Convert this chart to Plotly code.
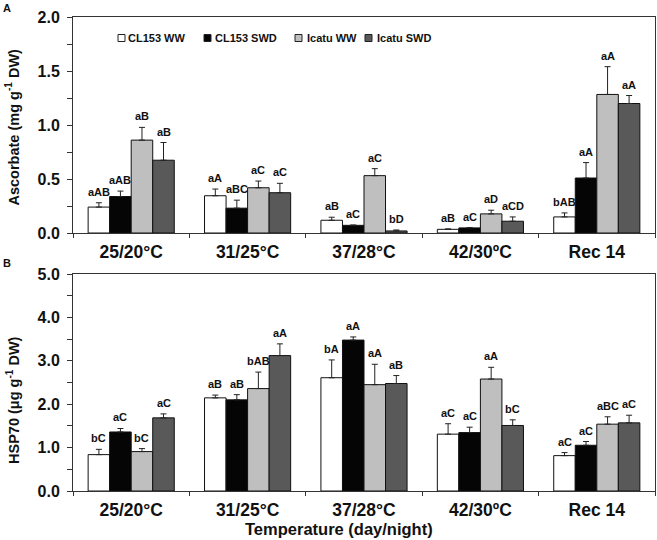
import plotly.graph_objects as go

categories = ["25/20°C", "31/25°C", "37/28°C", "42/30ºC", "Rec 14"]
series_names = ["CL153 WW", "CL153 SWD", "Icatu WW", "Icatu SWD"]
series_colors = ["#ffffff", "#050505", "#bfbfbf", "#595959"]

# Panel A: Ascorbate (mg g-1 DW)
asc_cl153_ww = [0.24, 0.345, 0.118, 0.034, 0.149]
asc_cl153_ww_err = [0.04, 0.062, 0.028, 0.004, 0.037]
asc_cl153_swd = [0.338, 0.23, 0.071, 0.047, 0.509]
asc_cl153_swd_err = [0.05, 0.074, 0.003, 0.003, 0.143]
asc_icatu_ww = [0.86, 0.419, 0.531, 0.177, 1.283]
asc_icatu_ww_err = [0.118, 0.062, 0.065, 0.034, 0.257]
asc_icatu_swd = [0.674, 0.373, 0.019, 0.109, 1.199]
asc_icatu_swd_err = [0.164, 0.087, 0.009, 0.04, 0.074]
asc_letters = [
    ["aAB", "aA", "aB", "aB", "bAB"],
    ["aAB", "aBC", "aC", "aC", "aA"],
    ["aB", "aC", "aC", "aD", "aA"],
    ["aB", "aC", "bD", "aCD", "aA"],
]

# Panel B: HSP70 (ug g-1 DW)
hsp_cl153_ww = [0.838, 2.146, 2.61, 1.31, 0.815]
hsp_cl153_ww_err = [0.122, 0.064, 0.41, 0.24, 0.07]
hsp_cl153_swd = [1.36, 2.1, 3.477, 1.346, 1.054]
hsp_cl153_swd_err = [0.08, 0.12, 0.073, 0.124, 0.086]
hsp_icatu_ww = [0.908, 2.36, 2.45, 2.58, 1.54]
hsp_icatu_ww_err = [0.069, 0.38, 0.47, 0.27, 0.17]
hsp_icatu_swd = [1.685, 3.12, 2.477, 1.51, 1.57]
hsp_icatu_swd_err = [0.092, 0.27, 0.183, 0.13, 0.176]
hsp_letters = [
    ["bC", "aB", "bA", "aC", "aC"],
    ["aC", "aB", "aA", "aC", "aC"],
    ["bC", "bAB", "aA", "aA", "aBC"],
    ["aC", "aA", "aB", "bC", "aC"],
]

asc_vals = [asc_cl153_ww, asc_cl153_swd, asc_icatu_ww, asc_icatu_swd]
asc_errs = [asc_cl153_ww_err, asc_cl153_swd_err, asc_icatu_ww_err, asc_icatu_swd_err]
hsp_vals = [hsp_cl153_ww, hsp_cl153_swd, hsp_icatu_ww, hsp_icatu_swd]
hsp_errs = [hsp_cl153_ww_err, hsp_cl153_swd_err, hsp_icatu_ww_err, hsp_icatu_swd_err]

FONT = "Liberation Sans, Arial, sans-serif"
BARGAP = 0.26
W, H = 657, 540
ML, MR, MT, MB = 73, 2, 17, 49
PW, PH = W - ML - MR, H - MT - MB
TOP_DOM = [(PH + MT - 233) / PH, 1.0]
BOT_DOM = [0.0, (PH + MT - 274) / PH]

fig = go.Figure()
annotations = []
nser = len(series_names)
slot = (1 - BARGAP) / nser

for panel, (vals, errs, letters, xa, ya) in enumerate([
    (asc_vals, asc_errs, asc_letters, "x", "y"),
    (hsp_vals, hsp_errs, hsp_letters, "x2", "y2"),
]):
    for j in range(nser):
        fig.add_trace(go.Bar(
            x=categories, y=vals[j], name=series_names[j],
            marker=dict(color=series_colors[j], line=dict(color="#111111", width=1)),
            error_y=dict(type="data", symmetric=False, array=errs[j],
                         arrayminus=[0] * len(errs[j]), color="#222222",
                         thickness=1, width=3),
            xaxis=xa, yaxis=ya, showlegend=False, hoverinfo="skip",
        ))
        for i in range(len(categories)):
            annotations.append(dict(
                x=i + (j - (nser - 1) / 2) * slot, y=vals[j][i] + errs[j][i],
                xref=xa, yref=ya, text=letters[j][i], showarrow=False,
                yanchor="bottom", xanchor="center", yshift=3,
                font=dict(family=FONT, size=11, color="#111111", weight="bold"),
            ))

def px_x(p):
    return (p - ML) / PW

def px_y(p):
    return (PH + MT - p) / PH

# manual legend (inside panel A)
leg_sq_px = [118, 204, 295, 365]
leg_txt_px = [126, 213, 305, 375]
leg_y_px = 38
for j in range(nser):
    fig.add_shape(type="rect", xref="paper", yref="paper",
                  x0=px_x(leg_sq_px[j]), x1=px_x(leg_sq_px[j] + 7),
                  y0=px_y(leg_y_px + 3.5), y1=px_y(leg_y_px - 3.5),
                  fillcolor=series_colors[j], line=dict(color="#222222", width=1))
    annotations.append(dict(
        x=px_x(leg_txt_px[j]), y=px_y(leg_y_px),
        xref="paper", yref="paper", text=series_names[j], showarrow=False,
        xanchor="left", yanchor="middle",
        font=dict(family=FONT, size=11, color="#111111", weight="bold"),
    ))

title_font = dict(family=FONT, size=14.5, color="#111111", weight="bold")
annotations += [
    dict(x=px_x(13), y=px_y(127.5), xref="paper", yref="paper", showarrow=False,
         text="Ascorbate (mg g<sup>-1</sup> DW)", textangle=-90,
         xanchor="center", yanchor="middle", font=title_font),
    dict(x=px_x(13), y=px_y(400), xref="paper", yref="paper", showarrow=False,
         text="HSP70 (μg g<sup>-1</sup> DW)", textangle=-90,
         xanchor="center", yanchor="middle", font=title_font),
    dict(x=px_x(338.5), y=px_y(529), xref="paper", yref="paper", showarrow=False,
         text="Temperature (day/night)", xanchor="center", yanchor="middle",
         font=dict(family=FONT, size=16.5, color="#111111", weight="bold")),
    dict(x=px_x(7), y=px_y(8), xref="paper", yref="paper", showarrow=False,
         text="A", xanchor="center", yanchor="middle",
         font=dict(family=FONT, size=11, color="#111111", weight="bold")),
    dict(x=px_x(7), y=px_y(263), xref="paper", yref="paper", showarrow=False,
         text="B", xanchor="center", yanchor="middle",
         font=dict(family=FONT, size=11, color="#111111", weight="bold")),
]

xaxis_common = dict(
    type="category", range=[-0.5, len(categories) - 0.5], showline=True,
    linecolor="#333333", linewidth=1, mirror=True, ticks="outside",
    tickson="boundaries", ticklen=4, tickcolor="#333333", showgrid=False,
    tickfont=dict(family=FONT, size=17.5, color="#111111", weight="bold"),
    ticklabelstandoff=3,
)
yaxis_common = dict(
    showline=True, linecolor="#333333", linewidth=1, mirror=True,
    ticks="outside", ticklen=5, tickcolor="#333333", showgrid=False,
    zeroline=False, tickformat=".1f",
    tickfont=dict(family=FONT, size=16, color="#111111", weight="bold"),
    ticklabelstandoff=4,
)

fig.update_layout(
    width=W, height=H,
    margin=dict(l=ML, r=MR, t=MT, b=MB, autoexpand=False),
    paper_bgcolor="white", plot_bgcolor="white",
    barmode="group", bargap=BARGAP, bargroupgap=0,
    showlegend=False, hovermode=False,
    xaxis=dict(domain=[0, 1], anchor="y", **xaxis_common),
    xaxis2=dict(domain=[0, 1], anchor="y2", **xaxis_common),
    yaxis=dict(domain=TOP_DOM, anchor="x", range=[0, 2.0], dtick=0.5,
               minor=dict(ticks="outside", ticklen=5, dtick=0.25, tickcolor="#333333"),
               **yaxis_common),
    yaxis2=dict(domain=BOT_DOM, anchor="x2", range=[0, 5.0], dtick=1.0,
                minor=dict(ticks="outside", ticklen=5, dtick=0.5, tickcolor="#333333"),
                **yaxis_common),
    annotations=annotations,
)

fig.write_html(
    "out.html",
    config={"displayModeBar": False, "staticPlot": True},
    post_script="document.body.style.margin='0px';document.body.style.overflow='hidden';",
)
